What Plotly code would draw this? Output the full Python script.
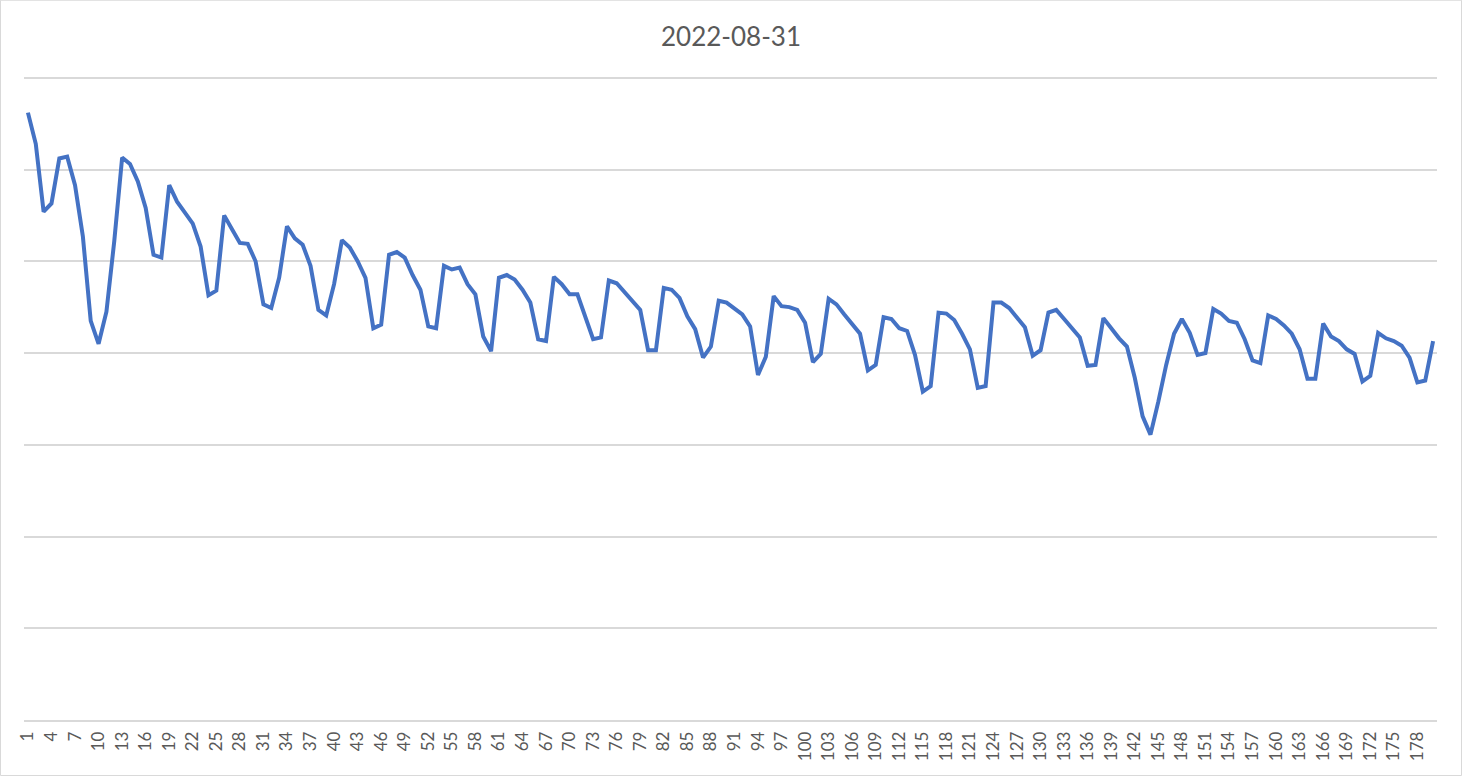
import plotly.graph_objects as go

title_text = "2022-08-31"

days = list(range(1, 181))

values = [
    6.62, 6.28, 5.54, 5.63, 6.12, 6.14, 5.83, 5.27, 4.35, 4.10,
    4.45, 5.22, 6.13, 6.06, 5.87, 5.58, 5.07, 5.04, 5.83, 5.65,
    5.53, 5.41, 5.16, 4.63, 4.68, 5.50, 5.35, 5.20, 5.19, 5.00,
    4.53, 4.49, 4.82, 5.38, 5.25, 5.18, 4.95, 4.47, 4.41, 4.75,
    5.23, 5.15, 5.00, 4.82, 4.27, 4.31, 5.07, 5.10, 5.04, 4.85,
    4.69, 4.29, 4.27, 4.95, 4.91, 4.93, 4.75, 4.64, 4.18, 4.02,
    4.82, 4.85, 4.80, 4.69, 4.55, 4.15, 4.13, 4.83, 4.75, 4.64,
    4.64, 4.39, 4.15, 4.17, 4.79, 4.76, 4.66, 4.56, 4.47, 4.03,
    4.03, 4.71, 4.69, 4.60, 4.40, 4.26, 3.95, 4.07, 4.57, 4.55,
    4.48, 4.42, 4.29, 3.76, 3.96, 4.62, 4.51, 4.50, 4.47, 4.33,
    3.90, 3.99, 4.59, 4.53, 4.42, 4.31, 4.21, 3.81, 3.87, 4.39,
    4.37, 4.27, 4.24, 3.98, 3.58, 3.64, 4.44, 4.43, 4.36, 4.21,
    4.04, 3.62, 3.64, 4.55, 4.55, 4.49, 4.38, 4.28, 3.97, 4.03,
    4.44, 4.47, 4.37, 4.27, 4.17, 3.86, 3.87, 4.38, 4.27, 4.16,
    4.07, 3.73, 3.31, 3.11, 3.47, 3.87, 4.21, 4.37, 4.22, 3.98,
    4.00, 4.48, 4.43, 4.35, 4.33, 4.15, 3.92, 3.89, 4.41, 4.37,
    4.30, 4.21, 4.04, 3.72, 3.72, 4.32, 4.18, 4.13, 4.04, 3.99,
    3.69, 3.75, 4.22, 4.16, 4.13, 4.08, 3.95, 3.68, 3.70, 4.13,
]

tick_days = list(range(1, 181, 3))
tick_labels = [str(d) for d in tick_days]
grid_levels = [1, 2, 3, 4, 5, 6, 7]

W, H = 1462, 776
Y_TOP = 7.03
ML, MR, MB = 24, 25, 56
MT = 78 - (Y_TOP - 7) * (720 - 78) / 7
PW, PH = W - ML - MR, H - MT - MB
FONT = "Lato, 'Open Sans', sans-serif"

fig = go.Figure()
fig.add_trace(go.Scatter(
    x=days, y=values, mode="lines",
    line=dict(color="#4472C4", width=4),
    hoverinfo="x+y", showlegend=False,
))

fig.update_layout(
    width=W, height=H,
    margin=dict(l=ML, r=MR, t=MT, b=MB, pad=0),
    paper_bgcolor="white", plot_bgcolor="white",
    font=dict(family=FONT, color="#595959"),
    title=dict(text=title_text, x=0.5, xanchor="center", y=1 - 37 / H,
               yanchor="middle", font=dict(size=26, color="#595959", family=FONT)),
)

fig.update_xaxes(
    range=[0.5, 180.5], tickmode="array", tickvals=tick_days, ticktext=tick_labels,
    tickangle=-90, tickfont=dict(size=17, color="#595959", family=FONT),
    ticklabelstandoff=3,
    showgrid=False, zeroline=False, showline=True, linecolor="#d9d9d9", linewidth=1.5,
    ticks="",
)
fig.update_yaxes(
    range=[0, Y_TOP], tickmode="array", tickvals=grid_levels, showticklabels=False,
    showgrid=True, gridcolor="#d9d9d9", gridwidth=1.5, zeroline=False, showline=False,
    ticks="",
)

# chart-area border
fig.add_shape(type="rect", xref="paper", yref="paper",
              x0=(0.5 - ML) / PW, x1=(W - 0.5 - ML) / PW,
              y0=(H - MB - (H - 0.5)) / PH, y1=(H - MB - 0.5) / PH,
              line=dict(color="#d9d9d9", width=1), layer="below")

fig.write_html(
    "out.html",
    config={"displayModeBar": False},
    post_script="document.body.style.margin='0';document.body.style.padding='0';"
                "document.body.style.overflow='hidden';",
)
